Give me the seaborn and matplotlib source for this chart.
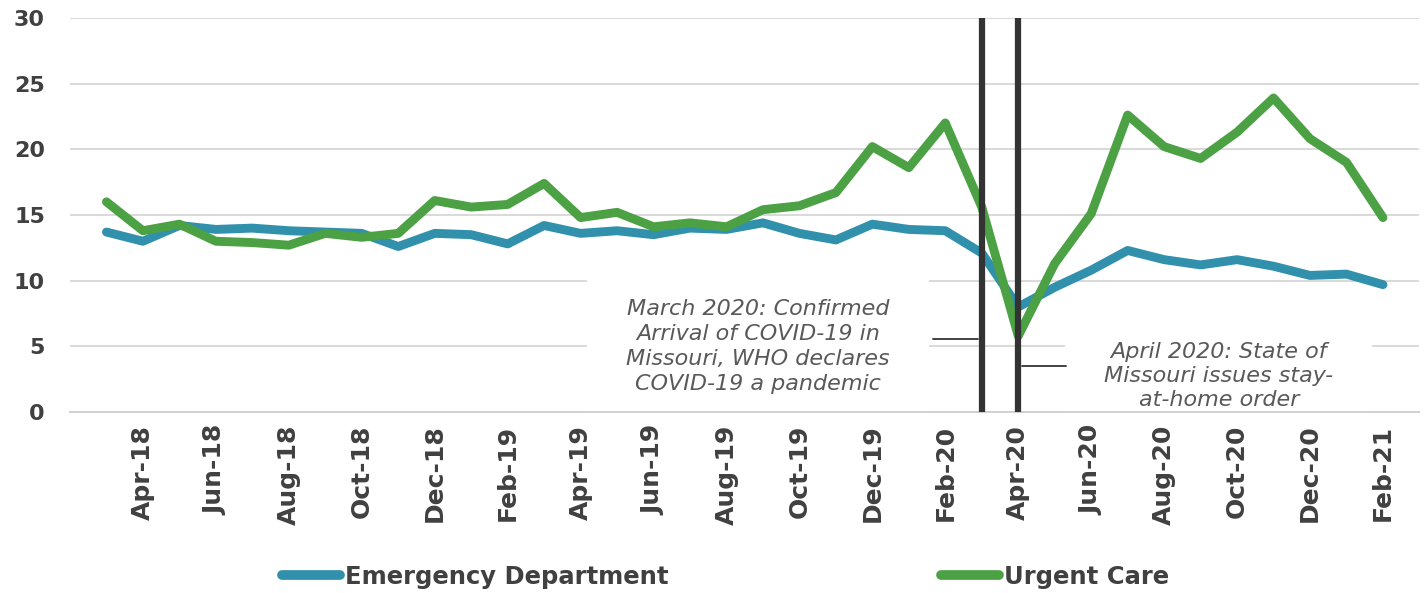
import matplotlib
matplotlib.use("Agg")
import matplotlib.pyplot as plt
from matplotlib.lines import Line2D
import seaborn as sns
import pandas as pd
import numpy as np

# --- DATA ---
months = list(pd.date_range("2018-03-01", periods=36, freq="MS").strftime("%b-%y"))

emergency_dept = [13.7, 13.0, 14.2, 13.9, 14.0, 13.8, 13.7, 13.6, 12.6, 13.6, 13.5, 12.8,
                  14.2, 13.6, 13.8, 13.5, 14.0, 13.9, 14.4, 13.6, 13.1, 14.3, 13.9, 13.8,
                  12.1, 8.0, 9.5, 10.8, 12.3, 11.6, 11.2, 11.6, 11.1, 10.4, 10.5, 9.7]

urgent_care = [16.0, 13.8, 14.3, 13.0, 12.9, 12.7, 13.6, 13.3, 13.6, 16.1, 15.6, 15.8,
               17.4, 14.8, 15.2, 14.1, 14.4, 14.1, 15.4, 15.7, 16.7, 20.2, 18.6, 22.0,
               15.6, 5.8, 11.3, 15.1, 22.6, 20.2, 19.3, 21.3, 23.9, 20.8, 19.0, 14.8]

series_names = ["Emergency Department", "Urgent Care"]
series_colors = ["#3190AC", "#4BA143"]

event_months = ["Mar-20", "Apr-20"]
event_texts = ["March 2020: Confirmed\nArrival of COVID-19 in\nMissouri, WHO declares\nCOVID-19 a pandemic",
               "April 2020: State of\nMissouri issues stay-\nat-home order"]

# --- long table for seaborn ---
idx = np.arange(len(months))
df = pd.concat([
    pd.DataFrame({"month": idx, "value": emergency_dept, "series": series_names[0]}),
    pd.DataFrame({"month": idx, "value": urgent_care, "series": series_names[1]}),
], ignore_index=True)

sns.set_style("whitegrid")
plt.rcParams["font.family"] = ["DejaVu Sans"]

fig = plt.figure(figsize=(14.28, 5.93), dpi=100)
ax = fig.add_axes([0.049, 0.305, 0.945, 0.665])

palette = dict(zip(series_names, series_colors))
sns.lineplot(data=df, x="month", y="value", hue="series", palette=palette,
             linewidth=6.4, legend=False, ax=ax, zorder=3,
             solid_capstyle="round", solid_joinstyle="round")

# event markers (vertical bars)
for m in event_months:
    ax.plot([months.index(m)] * 2, [0, 30], color="#333333", linewidth=4.5, zorder=4,
            solid_capstyle="butt")

# annotation leader lines
i_mar = months.index(event_months[0])
i_apr = months.index(event_months[1])
ax.plot([i_mar - 1.34, i_mar - 0.1], [5.55, 5.55], color="#333333", linewidth=1.3, zorder=4)
ax.plot([i_apr + 0.1, i_apr + 1.3], [3.5, 3.5], color="#333333", linewidth=1.3, zorder=4)

# annotation texts with white boxes breaking the grid
box = dict(boxstyle="square,pad=1.75", facecolor="white", edgecolor="none")
ax.text(17.86, 5.0, event_texts[0], ha="center", va="center", fontsize=16,
        style="italic", color="#595959", linespacing=1.3, bbox=box, zorder=1,
        clip_on=True)
ax.text(30.5, 2.75, event_texts[1], ha="center", va="center", fontsize=16,
        style="italic", color="#595959", linespacing=1.22, bbox=box, zorder=1,
        clip_on=True)

# axes styling
ax.set_xlim(-1, 36)
ax.set_ylim(0, 30)
ax.set_yticks(range(0, 31, 5))
ax.set_xticks(range(-1, 37))
ax.set_xticklabels(["" if (i < 0 or i >= len(months) or i % 2 == 0) else months[i]
                    for i in range(-1, 37)])
ax.grid(axis="y", color="#d9d9d9", linewidth=1.4)
ax.grid(axis="x", visible=False)
for side in ["left", "right", "top"]:
    ax.spines[side].set_visible(False)
ax.spines["bottom"].set_color("#d0d0d0")
ax.spines["bottom"].set_linewidth(1.4)
ax.tick_params(axis="x", length=5, width=1.2, color="#d0d0d0", pad=4,
               labelsize=18, labelcolor="#404040", rotation=90)
ax.tick_params(axis="y", length=0, pad=18, labelsize=16, labelcolor="#404040")
for lab in ax.get_xticklabels() + ax.get_yticklabels():
    lab.set_fontweight("bold")
ax.set_xlabel("")
ax.set_ylabel("")

# legend
handles = [Line2D([0], [0], color=c, linewidth=7, solid_capstyle="round") for c in series_colors]
fig.legend(handles, series_names, loc="center", bbox_to_anchor=(0.508, 0.027), ncol=2,
           frameon=False, columnspacing=11.2, handlelength=2.4, handletextpad=0.2,
           prop={"weight": "bold", "size": 17.5}, labelcolor="#404040")

plt.savefig("out.png", dpi=100)
plt.close()
